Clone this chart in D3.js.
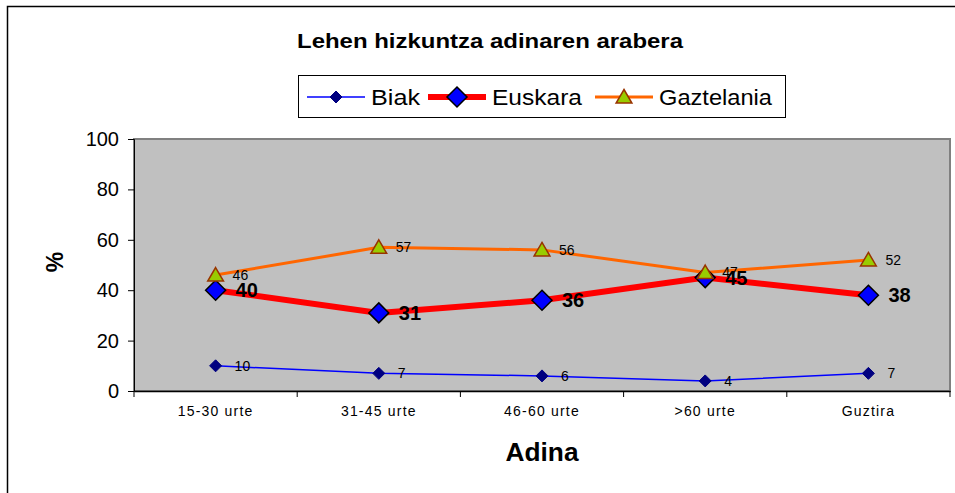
<!DOCTYPE html>
<html><head><meta charset="utf-8">
<script src="https://cdn.jsdelivr.net/npm/d3@7"></script>
<style>body{margin:0;background:#fff;} svg{display:block;font-family:"Liberation Sans",Arial,sans-serif;}</style>
</head><body>
<script>
const categories = ["15-30 urte","31-45 urte","46-60 urte",">60 urte","Guztira"];
const biak = [10,7,6,4,7];
const euskara = [40,31,36,45,38];
const gaztelania = [46,57,56,47,52];
const yTicks = [0,20,40,60,80,100];
const seriesNames = ["Biak","Euskara","Gaztelania"];

const W=955,H=493;
const svg=d3.select("body").append("svg").attr("width",W).attr("height",H);
svg.append("rect").attr("x",7.5).attr("y",6.5).attr("width",W).attr("height",H).attr("fill","none").attr("stroke","#000").attr("stroke-width",1.5);

const L=134,R=950,T=139,B=391;
const x=d3.scaleBand().domain(categories).range([L,R]);
const y=d3.scaleLinear().domain([0,100]).range([B,T]);

svg.append("rect").attr("x",L).attr("y",T).attr("width",R-L).attr("height",B-T).attr("fill","#C0C0C0").attr("stroke","#808080").attr("stroke-width",2);

// axes
const ya=svg.append("g").attr("transform",`translate(${L},0)`).call(d3.axisLeft(y).tickValues(yTicks).tickSize(6).tickPadding(9));
ya.select(".domain").attr("stroke","#000");
ya.selectAll("text").attr("font-size",20).attr("font-family","Liberation Sans, Arial").attr("fill","#000");
const xa=svg.append("g").attr("transform",`translate(0,${B})`).call(d3.axisBottom(x).tickSize(0).tickPadding(15));
xa.select(".domain").attr("stroke","#000").attr("stroke-width",1.5);
xa.selectAll("text").attr("font-size",14).attr("letter-spacing","1.2px").attr("font-family","Liberation Sans Narrow, Liberation Sans, Arial").attr("fill","#000");
// boundary ticks
const bounds=categories.map(c=>x(c)).concat([R]);
svg.append("g").selectAll("line").data(bounds).join("line")
  .attr("x1",d=>d).attr("x2",d=>d).attr("y1",B).attr("y2",B+6).attr("stroke","#000");

const cx=c=>x(c)+x.bandwidth()/2;
const line=d3.line().x((d,i)=>cx(categories[i])).y(d=>y(d));

const diamond=(s)=>`M0,${-s}L${s},0L0,${s}L${-s},0Z`;
const tri=(s)=>`M0,${-s}L${s*1.05},${s*0.8}L${-s*1.05},${s*0.8}Z`;

const series=[
 {name:"Biak",data:biak,color:"#0000FF",w:1.5,marker:diamond(6),fill:"#000080",stroke:"#000080",sw:1,fs:14,fw:"normal",dx:19},
 {name:"Gaztelania",data:gaztelania,color:"#FF6600",w:3,marker:tri(7.5),fill:"#99CC00",stroke:"#993300",sw:1.5,fs:14,fw:"normal",dx:17},
 {name:"Euskara",data:euskara,color:"#FF0000",w:6,marker:diamond(10),fill:"#0000FF",stroke:"#000",sw:1.5,fs:20,fw:"bold",dx:20}
];
const order=["Biak","Euskara","Gaztelania"];
order.forEach(n=>{
  const s=series.find(d=>d.name===n);
  svg.append("path").datum(s.data).attr("d",line).attr("fill","none").attr("stroke",s.color).attr("stroke-width",s.w);
});
order.forEach(n=>{
  const s=series.find(d=>d.name===n);
  svg.append("g").selectAll("path").data(s.data).join("path")
    .attr("d",s.marker).attr("transform",(d,i)=>`translate(${cx(categories[i])},${y(d)})`)
    .attr("fill",s.fill).attr("stroke",s.stroke).attr("stroke-width",s.sw);
});
order.forEach(n=>{
  const s=series.find(d=>d.name===n);
  svg.append("g").selectAll("text").data(s.data).join("text")
    .attr("x",(d,i)=>cx(categories[i])+s.dx).attr("y",d=>y(d)).attr("dy","0.35em")
    .attr("font-size",s.fs).attr("font-weight",s.fw).attr("fill","#000").text(d=>d);
});

// title
svg.append("text").attr("x",490).attr("y",48).attr("text-anchor","middle").attr("font-size",20).attr("font-weight","bold")
  .attr("textLength",386).attr("lengthAdjust","spacingAndGlyphs").text("Lehen hizkuntza adinaren arabera");
// axis titles
svg.append("text").attr("transform","translate(63,262) rotate(-90)").attr("text-anchor","middle").attr("font-size",23).attr("font-weight","bold").text("%");
svg.append("text").attr("x",542).attr("y",461).attr("text-anchor","middle").attr("font-size",25).attr("font-weight","bold")
  .attr("textLength",73).attr("lengthAdjust","spacingAndGlyphs").text("Adina");

// legend
const lg=svg.append("g");
lg.append("rect").attr("x",298.5).attr("y",75.5).attr("width",487).attr("height",42).attr("fill","#fff").attr("stroke","#000").attr("stroke-width",1);
const legItems=[{n:"Biak",x0:307,tw:49},{n:"Euskara",x0:428,tw:90},{n:"Gaztelania",x0:595,tw:113}];
legItems.forEach(it=>{
  const s=series.find(d=>d.name===it.n);
  lg.append("line").attr("x1",it.x0).attr("x2",it.x0+58).attr("y1",97).attr("y2",97).attr("stroke",s.color).attr("stroke-width",s.w);
  lg.append("path").attr("d",s.marker).attr("transform",`translate(${it.x0+29},97)`).attr("fill",s.fill).attr("stroke",s.stroke).attr("stroke-width",s.sw);
  lg.append("text").attr("x",it.x0+64).attr("y",97).attr("dy","0.35em").attr("font-size",22)
    .attr("textLength",it.tw).attr("lengthAdjust","spacingAndGlyphs").text(s.name);
});
</script>
</body></html>
